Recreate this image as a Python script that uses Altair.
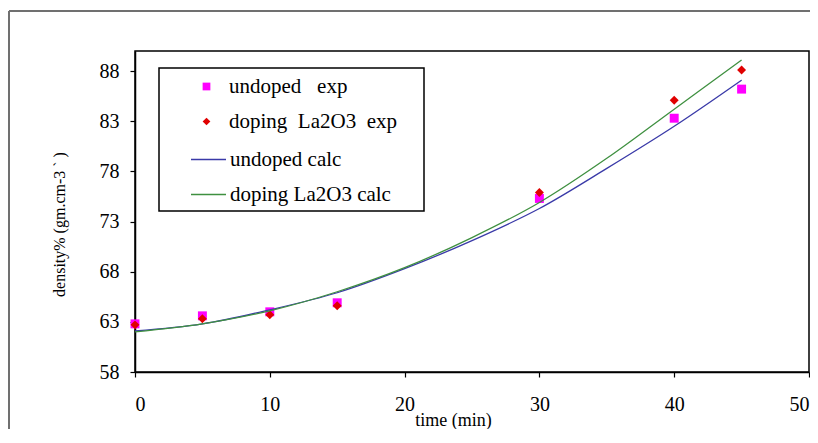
import altair as alt
import pandas as pd

# ---- data ----
exp_times = [0, 5, 10, 15, 30, 40, 45]
undoped_exp = [62.8, 63.6, 64.0, 64.9, 75.3, 83.3, 86.2]
doped_exp = [62.7, 63.3, 63.7, 64.6, 75.9, 85.1, 88.1]

calc_times = [0, 5, 10, 15, 20, 25, 30, 35, 40, 45]
undoped_calc = [62.1, 62.8, 64.2, 65.9, 68.3, 71.1, 74.3, 78.3, 82.5, 87.1]
doped_calc = [62.0, 62.8, 64.1, 66.0, 68.4, 71.4, 74.9, 79.3, 84.2, 89.1]

exp_names = ["undoped\u00a0\u00a0 exp", "doping\u00a0 La2O3\u00a0 exp"]
calc_names = ["undoped calc", "doping La2O3 calc"]

x_ticks = [0, 10, 20, 30, 40, 50]
y_ticks = [58, 63, 68, 73, 78, 83, 88]

FONT = "Liberation Serif"

exp_df = pd.DataFrame({
    "time": exp_times + exp_times,
    "density": undoped_exp + doped_exp,
    "series": [exp_names[0]] * len(exp_times) + [exp_names[1]] * len(exp_times),
})
calc_df = pd.DataFrame({
    "time": calc_times + calc_times,
    "density": undoped_calc + doped_calc,
    "series": [calc_names[0]] * len(calc_times) + [calc_names[1]] * len(calc_times),
})
one = pd.DataFrame({"a": [0]})

xscale = alt.Scale(domain=[0, 50], nice=False)
yscale = alt.Scale(domain=[58, 90], nice=False)

x_enc = alt.X("time:Q", scale=xscale, title="time (min)",
              axis=alt.Axis(values=x_ticks, grid=False, titleX=318, titleY=48,
                            titleBaseline="middle", titleAlign="center"))
y_enc = alt.Y("density:Q", scale=yscale, title="density% (gm.cm-3 ` )",
              axis=alt.Axis(values=y_ticks, grid=False, titleX=-76, titleY=173,
                            titleBaseline="middle", titleAlign="center", titleAngle=270))

frame_top = alt.Chart(one).mark_rule(stroke="#707070", strokeWidth=2).encode(
    x=alt.value(-126), x2=alt.value(676), y=alt.value(-40)
)
frame_left = alt.Chart(one).mark_rule(stroke="#707070", strokeWidth=2).encode(
    x=alt.value(-126), y=alt.value(-40), y2=alt.value(400)
)
legend_box = alt.Chart(one).mark_rect(fill="white", stroke="black", strokeWidth=1.5).encode(
    x=alt.value(24), x2=alt.value(289), y=alt.value(17), y2=alt.value(160)
)

pt_legend = alt.Legend(orient="none", legendX=61, legendY=25, title=None, padding=0,
                       symbolSize=60, labelOffset=12, rowPadding=13, labelLimit=0,
                       labelFont=FONT, labelFontSize=21, labelColor="black")
points = alt.Chart(exp_df).mark_point(filled=True, opacity=1, size=80, strokeWidth=0).encode(
    x=x_enc, y=y_enc,
    fill=alt.Fill("series:N", scale=alt.Scale(domain=exp_names, range=["#ff00ff", "#e00000"]),
                  legend=pt_legend),
    shape=alt.Shape("series:N", scale=alt.Scale(domain=exp_names, range=["square", "diamond"]),
                    legend=pt_legend),
    order=alt.Order("series:N", sort="descending"),
)

ln_legend = alt.Legend(orient="none", legendX=55, legendY=90, title=None, padding=0,
                       symbolType="stroke", symbolSize=1225, symbolStrokeWidth=1.5,
                       labelOffset=3, rowPadding=6, labelLimit=0,
                       labelFont=FONT, labelFontSize=21, labelColor="black")
lines = alt.Chart(calc_df).mark_line(strokeWidth=1.3, interpolate="monotone").encode(
    x=x_enc, y=y_enc,
    stroke=alt.Stroke("series:N", scale=alt.Scale(domain=calc_names, range=["#3a3aa8", "#3f9040"]),
                      legend=ln_legend),
)

chart = alt.layer(frame_top, frame_left, legend_box, points, lines).resolve_scale(
    fill="independent", shape="independent", stroke="independent"
).properties(
    width=674, height=321,
    padding={"left": 127, "top": 43, "right": 1, "bottom": 57},
    autosize=alt.AutoSizeParams(type="none"),
).configure_view(
    stroke="black", strokeWidth=1.5
).configure_axis(
    labelFont=FONT, labelFontSize=20, labelColor="black",
    titleFont=FONT, titleFontSize=18, titleColor="black", titleFontWeight="normal",
    domainColor="black", domainWidth=1.5, tickColor="black", tickSize=5, tickWidth=1.2,
).configure_axisX(labelPadding=17).configure_axisY(labelPadding=11, titleFontSize=16)

chart.save("out.html", embed_options={"renderer": "svg", "actions": False})
